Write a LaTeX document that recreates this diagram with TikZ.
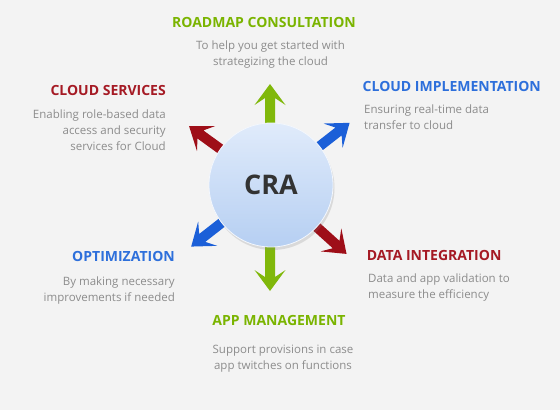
\documentclass[tikz,border=0pt]{standalone}
\usepackage{fontspec}
\setmainfont{Open Sans}
\usetikzlibrary{shadows}
\definecolor{bg}{HTML}{F3F3F3}
\definecolor{cgreen}{HTML}{80B80A}
\definecolor{cred}{HTML}{9E0E18}
\definecolor{cblue}{HTML}{1B5FD8}
\definecolor{tgreen}{HTML}{7AB400}
\definecolor{tred}{HTML}{A51A24}
\definecolor{tblue}{HTML}{2D6FDB}
\definecolor{tgray}{HTML}{8C8C8C}
\definecolor{ctop}{HTML}{E0EBFB}
\definecolor{cbot}{HTML}{B6CFF2}
\tikzset{
  ttl/.style={font=\fontsize{14}{16}\selectfont\bfseries, inner sep=0pt},
  body/.style={font=\fontsize{11.5}{16}\selectfont, text=tgray, inner sep=0pt},
}
\newcommand\craarrow[3]{%
  \begin{scope}[shift={(270,185)}, rotate=#1]
    \fill[#2] (45,-5) -- (#3-14,-5) -- (#3-21,-15.5) -- (#3,0) -- (#3-21,15.5) -- (#3-14,5) -- (45,5) -- cycle;
  \end{scope}}
\begin{document}
\begin{tikzpicture}[x=1pt,y=-1pt]
\fill[bg] (0,0) rectangle (560,410);
\useasboundingbox (0,0) rectangle (560,410);
\craarrow{90}{cgreen}{101}
\craarrow{-90}{cgreen}{106}
\craarrow{38}{cblue}{101}
\craarrow{-142}{cblue}{100}
\craarrow{144}{cred}{100}
\craarrow{-42}{cred}{103}
\node[circle, minimum size=124pt, inner sep=0pt, draw=white!60!ctop, line width=0.8pt,
  top color=ctop, bottom color=cbot,
  drop shadow={opacity=0.22, shadow xshift=1.5pt, shadow yshift=-3pt},
  font=\fontsize{27}{30}\selectfont\bfseries, text=black!80] (cra) at (271,185) {CRA};
% titles
\node[ttl, text=tgreen] (t1) at (264,22.7) {ROADMAP CONSULTATION};
\node[ttl, text=tred, anchor=east] (t2) at (166,90.7) {CLOUD SERVICES};
\node[ttl, text=tblue, anchor=west] (t3) at (362.5,86.7) {CLOUD IMPLEMENTATION};
\node[ttl, text=tblue, anchor=east] (t4) at (175,256.7) {OPTIMIZATION};
\node[ttl, text=tred, anchor=west] (t5) at (366.7,255) {DATA INTEGRATION};
\node[ttl, text=tgreen] (t6) at (279,320.7) {APP MANAGEMENT};
% bodies
\node[body, align=center, anchor=north] (b1) at (270.5,41) {To help you get started with\\strategizing the cloud};
\node[body, align=right, anchor=north east] (b2) at (166,109.5) {Enabling role-based data\\access and security\\services for Cloud};
\node[body, align=left, anchor=north west] (b3) at (364,105) {Ensuring real-time data\\transfer to cloud};
\node[body, align=right, anchor=north east] (b4) at (175,277) {By making necessary\\improvements if needed};
\node[body, align=left, anchor=north west] (b5) at (368,274) {Data and app validation to\\measure the efficiency};
\node[body, align=center, anchor=north] (b6) at (283,345) {Support provisions in case\\app twitches on functions};
\end{tikzpicture}
\end{document}
